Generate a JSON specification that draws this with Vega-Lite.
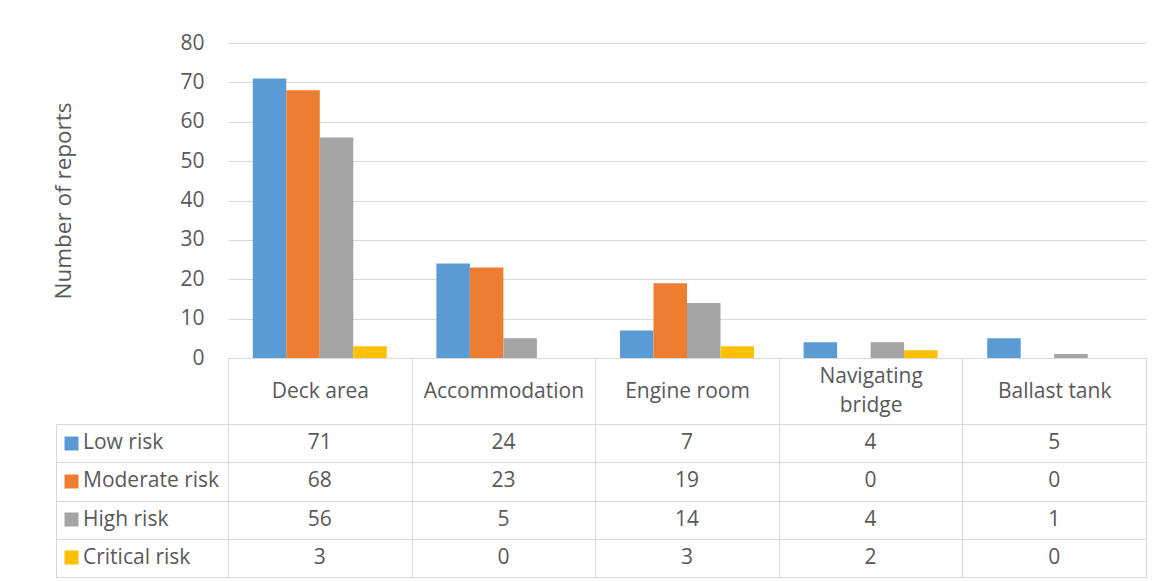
{
  "$schema": "https://vega.github.io/schema/vega-lite/v6.json",
  "padding": {"left": 51, "top": 32, "right": 10, "bottom": 5},
  "background": "white",
  "config": {
    "font": "Open Sans",
    "view": {"stroke": null},
    "axis": {"labelFont": "Open Sans", "titleFont": "Open Sans", "labelColor": "#595959", "titleColor": "#595959", "labelFontSize": 21, "titleFontSize": 22.5, "titleFontWeight": "normal", "gridColor": "#d9d9d9", "domainColor": "#d9d9d9", "tickColor": "#d9d9d9"}
  },
  "datasets": {
    "d": [
      {"area": "Deck area", "risk": "Low risk", "count": 71},
      {"area": "Deck area", "risk": "Moderate risk", "count": 68},
      {"area": "Deck area", "risk": "High risk", "count": 56},
      {"area": "Deck area", "risk": "Critical risk", "count": 3},
      {"area": "Accommodation", "risk": "Low risk", "count": 24},
      {"area": "Accommodation", "risk": "Moderate risk", "count": 23},
      {"area": "Accommodation", "risk": "High risk", "count": 5},
      {"area": "Accommodation", "risk": "Critical risk", "count": 0},
      {"area": "Engine room", "risk": "Low risk", "count": 7},
      {"area": "Engine room", "risk": "Moderate risk", "count": 19},
      {"area": "Engine room", "risk": "High risk", "count": 14},
      {"area": "Engine room", "risk": "Critical risk", "count": 3},
      {"area": "Navigating bridge", "risk": "Low risk", "count": 4},
      {"area": "Navigating bridge", "risk": "Moderate risk", "count": 0},
      {"area": "Navigating bridge", "risk": "High risk", "count": 4},
      {"area": "Navigating bridge", "risk": "Critical risk", "count": 2},
      {"area": "Ballast tank", "risk": "Low risk", "count": 5},
      {"area": "Ballast tank", "risk": "Moderate risk", "count": 0},
      {"area": "Ballast tank", "risk": "High risk", "count": 1},
      {"area": "Ballast tank", "risk": "Critical risk", "count": 0}
    ]
  },
  "bounds": "flush",
  "spacing": 66,
  "vconcat": [
    {
      "width": 918,
      "height": 315,
      "data": {"name": "d"},
      "mark": {"type": "bar"},
      "encoding": {
        "x": {
          "field": "area", "type": "nominal", "title": null,
          "sort": ["Deck area", "Accommodation", "Engine room", "Navigating bridge", "Ballast tank"],
          "scale": {"paddingInner": 0, "paddingOuter": 0},
          "axis": {
            "labelAngle": 0, "tickBand": "extent", "ticks": true, "tickSize": 66, "labelPadding": -47.5,
            "labelBaseline": {"condition": {"test": "datum.value === 'Navigating bridge'", "value": "middle"}, "value": "line-top"},
            "labelLineHeight": 29,
            "labelExpr": "datum.value == 'Navigating bridge' ? ['Navigating', 'bridge'] : datum.value"
          }
        },
        "xOffset": {
          "field": "risk", "type": "nominal",
          "sort": ["Low risk", "Moderate risk", "High risk", "Critical risk"],
          "scale": {"paddingInner": 0, "paddingOuter": 0.74}
        },
        "y": {
          "field": "count", "type": "quantitative", "title": "Number of reports",
          "scale": {"domain": [0, 80]},
          "axis": {"values": [0, 10, 20, 30, 40, 50, 60, 70, 80], "domain": false, "ticks": false, "labelPadding": 24, "titleX": -165, "titleBaseline": "middle"}
        },
        "color": {
          "field": "risk", "type": "nominal", "legend": null,
          "scale": {"domain": ["Low risk", "Moderate risk", "High risk", "Critical risk"], "range": ["#5B9BD5", "#ED7D31", "#A5A5A5", "#FFC000"]}
        }
      }
    },
    {
      "width": 918,
      "height": 153,
      "data": {"name": "d"},
      "view": {"stroke": "#d9d9d9"},
      "resolve": {"axis": {"y": "independent"}},
      "layer": [
        {
          "mark": {"type": "text", "fontSize": 21, "color": "#595959", "font": "Open Sans"},
          "encoding": {
            "x": {
              "field": "area", "type": "nominal", "title": null,
              "sort": ["Deck area", "Accommodation", "Engine room", "Navigating bridge", "Ballast tank"],
              "scale": {"paddingInner": 0, "paddingOuter": 0},
              "axis": {"grid": true, "tickBand": "extent", "labels": false, "ticks": false, "domain": false}
            },
            "y": {
              "field": "risk", "type": "nominal", "title": null,
              "sort": ["Low risk", "Moderate risk", "High risk", "Critical risk"],
              "scale": {"domain": ["Low risk", "Moderate risk", "High risk", "Critical risk"], "paddingInner": 0, "paddingOuter": 0},
              "axis": {
                "orient": "left", "offset": 150, "domain": false, "grid": false, "ticks": true, "tickSize": 14, "tickWidth": 14, "tickBand": "center",
                "tickColor": {"condition": [{"test": "datum.value === 'Low risk'", "value": "#5B9BD5"}, {"test": "datum.value === 'Moderate risk'", "value": "#ED7D31"}, {"test": "datum.value === 'High risk'", "value": "#A5A5A5"}], "value": "#FFC000"},
                "labelAlign": "left", "labelBaseline": "middle", "labelPadding": -18.5
              }
            },
            "text": {"field": "count", "type": "quantitative"}
          }
        },
        {
          "mark": {"type": "text", "opacity": 0},
          "encoding": {
            "y": {
              "field": "risk", "type": "nominal", "title": null,
              "sort": ["Low risk", "Moderate risk", "High risk", "Critical risk"],
              "axis": {"orient": "left", "offset": 0, "labels": false, "domain": false, "grid": true, "ticks": true, "tickBand": "extent", "tickSize": 172}
            }
          }
        },
        {
          "mark": {"type": "text", "opacity": 0},
          "encoding": {
            "y": {
              "field": "risk", "type": "nominal", "title": null,
              "sort": ["Low risk", "Moderate risk", "High risk", "Critical risk"],
              "axis": {"orient": "left", "offset": 172, "labels": false, "domain": true, "grid": false, "ticks": false}
            }
          }
        }
      ]
    }
  ]
}
